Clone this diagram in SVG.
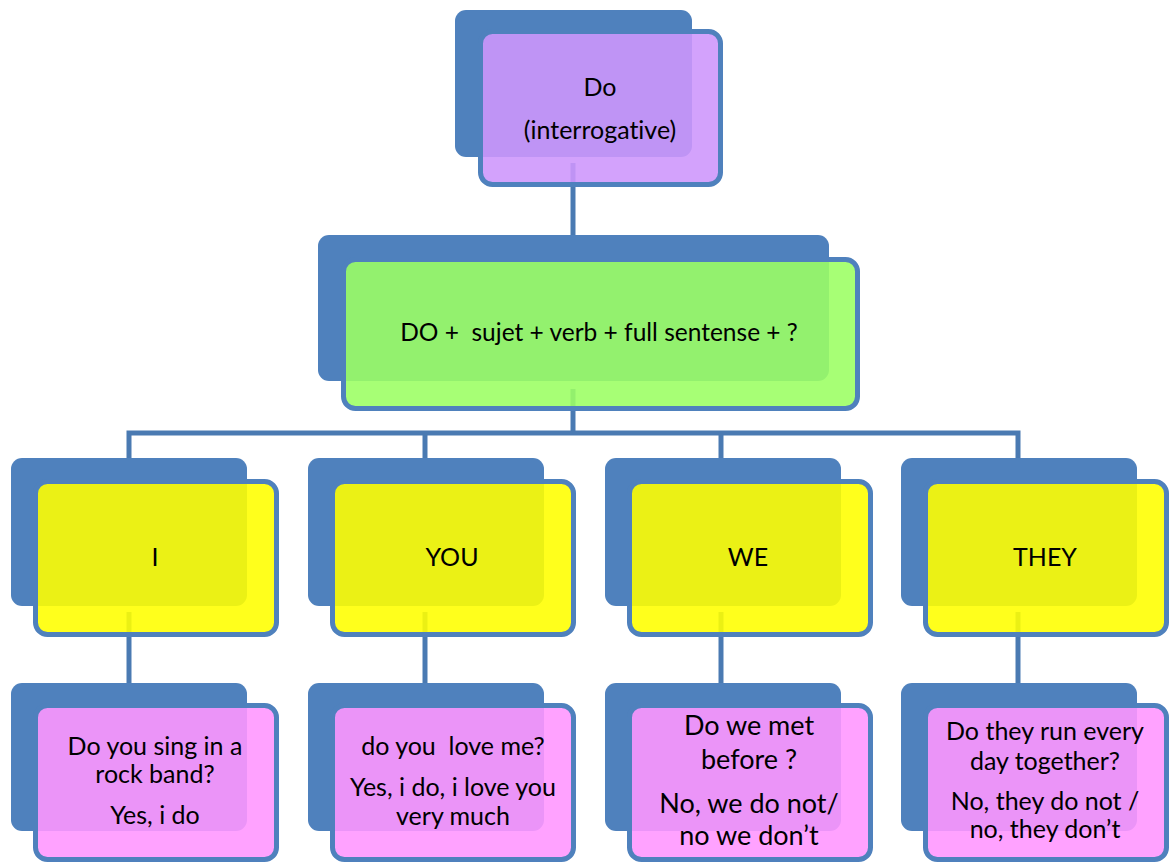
<svg xmlns="http://www.w3.org/2000/svg" width="1173" height="865" viewBox="0 0 1173 865">
<style>
.back{fill:#4F81BD}
.front{stroke:#4F81BD;stroke-width:5;fill-opacity:0.89}
.purple{fill:#CE96FC}
.green{fill:#9CFF64}
.yellow{fill:#FFFF00}
.pink{fill:#FF97FF}
.conn{stroke:#4A7AB2;stroke-width:5;fill:none}
text{font-family:Lato,"Liberation Sans",sans-serif;font-size:25px;fill:#000;text-anchor:middle;font-variant-ligatures:none}
.big{font-size:27px}
.rule{font-size:24.5px}
</style>
<rect width="1173" height="865" fill="#FFFFFF"/>
<g id="connectors">
<line class="conn" x1="573" y1="163" x2="573" y2="236"/>
<line class="conn" x1="573" y1="389" x2="573" y2="433"/>
<polyline class="conn" points="129,458 129,433 1018,433 1018,458"/>
<line class="conn" x1="425" y1="433" x2="425" y2="458"/>
<line class="conn" x1="721" y1="433" x2="721" y2="458"/>
<line class="conn" x1="129" y1="612" x2="129" y2="684"/>
<line class="conn" x1="425" y1="612" x2="425" y2="684"/>
<line class="conn" x1="721" y1="612" x2="721" y2="684"/>
<line class="conn" x1="1018" y1="612" x2="1018" y2="684"/>
</g>
<g id="node-do">
<rect class="back" x="455" y="10" width="237" height="147" rx="11"/>
<rect class="front purple" x="480.5" y="31.5" width="240" height="153" rx="12"/>
<text x="600" y="96">Do</text>
<text x="600" y="139">(interrogative)</text>
</g>
<g id="node-rule">
<rect class="back" x="318" y="235" width="511" height="146" rx="11"/>
<rect class="front green" x="343.5" y="259.5" width="514" height="149" rx="12"/>
<text class="rule" x="599" y="341" xml:space="preserve">DO +  sujet + verb + full sentense + ?</text>
</g>
<g id="node-i">
<rect class="back" x="11" y="458" width="236" height="148" rx="11"/>
<rect class="front yellow" x="35.5" y="481.5" width="241" height="153" rx="12"/>
<text x="155" y="566">I</text>
</g>
<g id="node-you">
<rect class="back" x="308" y="458" width="236" height="148" rx="11"/>
<rect class="front yellow" x="332.5" y="481.5" width="241" height="153" rx="12"/>
<text x="452" y="566">YOU</text>
</g>
<g id="node-we">
<rect class="back" x="605" y="458" width="236" height="148" rx="11"/>
<rect class="front yellow" x="629.5" y="481.5" width="241" height="153" rx="12"/>
<text x="748" y="566">WE</text>
</g>
<g id="node-they">
<rect class="back" x="901" y="458" width="236" height="148" rx="11"/>
<rect class="front yellow" x="925.5" y="481.5" width="241" height="153" rx="12"/>
<text x="1045" y="566">THEY</text>
</g>
<g id="node-ex-i">
<rect class="back" x="11" y="683" width="236" height="148" rx="11"/>
<rect class="front pink" x="35.5" y="705.5" width="241" height="154" rx="12"/>
<text x="155" y="755">Do you sing in a</text>
<text x="155" y="783">rock band?</text>
<text x="155" y="824">Yes, i do</text>
</g>
<g id="node-ex-you">
<rect class="back" x="308" y="683" width="236" height="148" rx="11"/>
<rect class="front pink" x="332.5" y="705.5" width="241" height="154" rx="12"/>
<text x="453" y="755" xml:space="preserve">do you  love me?</text>
<text x="453" y="796">Yes, i do, i love you</text>
<text x="453" y="825">very much</text>
</g>
<g id="node-ex-we">
<rect class="back" x="605" y="683" width="236" height="148" rx="11"/>
<rect class="front pink" x="629.5" y="705.5" width="241" height="154" rx="12"/>
<text class="big" x="749" y="735">Do we met</text>
<text class="big" x="749" y="769">before ?</text>
<text class="big" x="749" y="813">No, we do not/</text>
<text class="big" x="749" y="845">no we don’t</text>
</g>
<g id="node-ex-they">
<rect class="back" x="901" y="683" width="236" height="148" rx="11"/>
<rect class="front pink" x="925.5" y="705.5" width="241" height="154" rx="12"/>
<text x="1045" y="740">Do they run every</text>
<text x="1045" y="770">day together?</text>
<text x="1045" y="810">No, they do not /</text>
<text x="1045" y="838">no, they don’t</text>
</g>
</svg>
